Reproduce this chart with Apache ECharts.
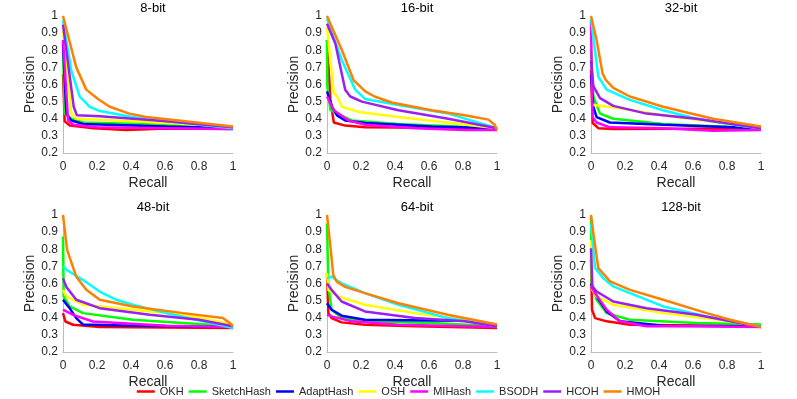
<!DOCTYPE html>
<html>
<head>
    <meta charset="UTF-8">
    <title>Precision-Recall curves</title>
    <script src="https://cdn.jsdelivr.net/npm/echarts@6/dist/echarts.min.js"></script>
</head>
<body style="margin: 0;overflow: hidden;background: #fff;">
<div id="chart" style="width: 797px;height: 399px;"></div>
<script type="text/javascript">
    var methods = ['OKH', 'SketchHash', 'AdaptHash', 'OSH', 'MIHash', 'BSODH', 'HCOH', 'HMOH'];
    var colors = ['#ff0000', '#00ff00', '#0000ff', '#ffff00', '#ff00ff', '#00ffff', '#9b1ff2', '#ff8000'];
    var panelTitles = ['8-bit', '16-bit', '32-bit', '48-bit', '64-bit', '128-bit'];
    var xTicks = [0, 0.2, 0.4, 0.6, 0.8, 1];
    var yTicks = [0.2, 0.3, 0.4, 0.5, 0.6, 0.7, 0.8, 0.9, 1];

    // each panel: one [recall, precision] curve per method, same order as methods
    var curves8 = [
        [[0, 0.66], [0.01, 0.385], [0.04, 0.36], [0.18, 0.345], [0.37, 0.335], [0.61, 0.343], [1, 0.34]],
        [[0, 0.8], [0.01, 0.43], [0.049, 0.4], [0.118, 0.378], [0.61, 0.365], [1, 0.35]],
        [[0, 0.84], [0.02, 0.43], [0.049, 0.39], [0.118, 0.37], [0.61, 0.355], [1, 0.345]],
        [[0, 0.92], [0.049, 0.43], [0.078, 0.4], [0.41, 0.385], [1, 0.355]],
        [[0, 0.86], [0.03, 0.39], [0.06, 0.365], [0.2, 0.35], [0.61, 0.345], [1, 0.34]],
        [[0, 0.975], [0.049, 0.68], [0.098, 0.53], [0.157, 0.47], [0.216, 0.445], [0.41, 0.41], [0.57, 0.39], [1, 0.345]],
        [[0, 0.95], [0.063, 0.47], [0.082, 0.42], [0.216, 0.415], [0.61, 0.385], [1, 0.35]],
        [[0, 1], [0.078, 0.7], [0.137, 0.57], [0.206, 0.515], [0.275, 0.47], [0.39, 0.43], [0.49, 0.41], [1, 0.355]]
    ];
    var curves16 = [
        [[0, 0.86], [0.02, 0.51], [0.04, 0.378], [0.107, 0.36], [0.225, 0.35], [1, 0.345]],
        [[0, 0.86], [0.002, 0.59], [0.02, 0.45], [0.059, 0.43], [0.146, 0.39], [0.42, 0.37], [1, 0.345]],
        [[0, 0.56], [0.03, 0.47], [0.059, 0.42], [0.107, 0.39], [0.225, 0.375], [0.615, 0.355], [1, 0.345]],
        [[0, 0.935], [0.04, 0.55], [0.059, 0.53], [0.088, 0.47], [0.186, 0.44], [0.42, 0.41], [1, 0.345]],
        [[0, 0.53], [0.04, 0.45], [0.127, 0.39], [0.225, 0.365], [0.52, 0.345], [0.81, 0.335], [1, 0.335]],
        [[0, 0.985], [0.088, 0.74], [0.166, 0.57], [0.225, 0.515], [0.42, 0.48], [0.713, 0.43], [1, 0.345]],
        [[0, 0.955], [0.049, 0.84], [0.107, 0.57], [0.137, 0.53], [0.205, 0.5], [0.42, 0.45], [0.713, 0.4], [1, 0.345]],
        [[0, 1], [0.088, 0.8], [0.156, 0.626], [0.225, 0.56], [0.28, 0.53], [0.38, 0.495], [0.615, 0.45], [0.81, 0.42], [0.95, 0.395], [0.986, 0.365], [1, 0.335]]
    ];
    var curves32 = [
        [[0, 0.685], [0.01, 0.375], [0.043, 0.345], [0.131, 0.34], [1, 0.343]],
        [[0, 0.8], [0.014, 0.53], [0.053, 0.43], [0.131, 0.4], [0.424, 0.37], [1, 0.345]],
        [[0, 0.655], [0.014, 0.47], [0.033, 0.41], [0.111, 0.378], [0.424, 0.365], [1, 0.345]],
        [[0, 0.49], [0.014, 0.48], [0.131, 0.467], [0.424, 0.42], [1, 0.345]],
        [[0, 0.975], [0.008, 0.41], [0.033, 0.378], [0.111, 0.35], [0.424, 0.345], [0.717, 0.33], [1, 0.335]],
        [[0, 0.985], [0.043, 0.645], [0.092, 0.57], [0.228, 0.51], [0.424, 0.45], [0.62, 0.4], [0.91, 0.355], [1, 0.345]],
        [[0, 0.74], [0.014, 0.59], [0.053, 0.52], [0.131, 0.475], [0.326, 0.43], [0.62, 0.4], [1, 0.345]],
        [[0, 1], [0.033, 0.86], [0.068, 0.665], [0.088, 0.625], [0.131, 0.58], [0.228, 0.53], [0.424, 0.47], [0.717, 0.4], [1, 0.355]]
    ];
    var curves48 = [
        [[0, 0.427], [0.014, 0.378], [0.059, 0.359], [0.216, 0.346], [1, 0.34]],
        [[0, 0.874], [0.004, 0.524], [0.039, 0.466], [0.118, 0.427], [0.41, 0.388], [1, 0.35]],
        [[0, 0.505], [0.039, 0.456], [0.078, 0.398], [0.118, 0.36], [0.41, 0.353], [1, 0.346]],
        [[0, 0.563], [0.02, 0.524], [0.118, 0.476], [0.41, 0.447], [0.706, 0.417], [1, 0.36]],
        [[0, 0.447], [0.059, 0.417], [0.176, 0.378], [0.608, 0.353], [1, 0.346]],
        [[0, 0.7], [0.02, 0.68], [0.118, 0.62], [0.216, 0.553], [0.314, 0.505], [0.41, 0.476], [0.608, 0.427], [1, 0.34]],
        [[0, 0.63], [0.02, 0.58], [0.078, 0.505], [0.216, 0.456], [0.51, 0.417], [0.8, 0.388], [1, 0.35]],
        [[0, 1], [0.024, 0.796], [0.078, 0.64], [0.137, 0.563], [0.216, 0.505], [0.41, 0.466], [0.706, 0.427], [0.94, 0.398], [0.98, 0.37], [1, 0.35]]
    ];
    var curves64 = [
        [[0, 0.66], [0.008, 0.427], [0.027, 0.398], [0.086, 0.373], [0.223, 0.359], [0.517, 0.35], [1, 0.34]],
        [[0, 0.95], [0.008, 0.583], [0.027, 0.447], [0.086, 0.398], [0.223, 0.379], [0.614, 0.369], [1, 0.35]],
        [[0, 0.485], [0.027, 0.447], [0.086, 0.412], [0.223, 0.388], [0.614, 0.384], [0.85, 0.383], [1, 0.35]],
        [[0, 0.66], [0.008, 0.563], [0.067, 0.524], [0.223, 0.476], [0.517, 0.427], [1, 0.36]],
        [[0, 0.417], [0.027, 0.408], [0.145, 0.379], [0.42, 0.359], [1, 0.346]],
        [[0, 0.63], [0.027, 0.64], [0.086, 0.6], [0.223, 0.544], [0.42, 0.476], [0.71, 0.398], [1, 0.35]],
        [[0, 0.6], [0.027, 0.563], [0.086, 0.495], [0.223, 0.437], [0.517, 0.398], [0.81, 0.379], [1, 0.35]],
        [[0, 1], [0.018, 0.835], [0.037, 0.65], [0.057, 0.61], [0.106, 0.58], [0.223, 0.544], [0.42, 0.485], [0.71, 0.417], [1, 0.36]]
    ];
    var curves128 = [
        [[0, 0.738], [0.006, 0.447], [0.024, 0.398], [0.092, 0.379], [0.229, 0.359], [1, 0.35]],
        [[0, 0.99], [0.004, 0.6], [0.033, 0.505], [0.092, 0.427], [0.229, 0.388], [0.62, 0.369], [1, 0.36]],
        [[0, 0.6], [0.033, 0.524], [0.092, 0.437], [0.171, 0.379], [0.425, 0.353], [1, 0.35]],
        [[0, 0.854], [0.008, 0.563], [0.033, 0.524], [0.131, 0.476], [0.425, 0.427], [0.818, 0.379], [1, 0.346]],
        [[0, 0.583], [0.024, 0.544], [0.092, 0.447], [0.171, 0.379], [0.327, 0.35], [0.62, 0.35], [1, 0.346]],
        [[0, 0.95], [0.024, 0.69], [0.073, 0.63], [0.131, 0.583], [0.229, 0.544], [0.425, 0.466], [0.68, 0.408], [1, 0.35]],
        [[0, 0.806], [0.008, 0.583], [0.033, 0.553], [0.131, 0.495], [0.327, 0.456], [0.62, 0.417], [1, 0.346]],
        [[0, 1], [0.014, 0.893], [0.043, 0.69], [0.112, 0.612], [0.229, 0.563], [0.425, 0.505], [0.68, 0.427], [0.818, 0.388], [1, 0.346]]
    ];
    var panels = [curves8, curves16, curves32, curves48, curves64, curves128];

    var gridLefts = [63, 327, 591];
    var gridTops = [16, 215];
    var gridW = 170, gridH = 137;
    var textColor = '#262626';
    var fontFamily = 'Liberation Sans, Arial, sans-serif';

    var grids = [], xAxes = [], yAxes = [], titles = [], series = [];
    for (var p = 0; p < panels.length; p++) {
        // note: not "top" -- that name is window.top at global scope
        var gLeft = gridLefts[p % 3];
        var gTop = gridTops[Math.floor(p / 3)];
        grids.push({left: gLeft, top: gTop, width: gridW, height: gridH});
        titles.push({
            text: panelTitles[p],
            left: gLeft + gridW / 2,
            top: gTop - 19,
            textAlign: 'center',
            textStyle: {fontSize: 13, fontWeight: 'normal', color: '#000', fontFamily: fontFamily}
        });
        xAxes.push({
            type: 'value', gridIndex: p, min: xTicks[0], max: xTicks[xTicks.length - 1],
            interval: 0.2,
            name: 'Recall', nameLocation: 'middle', nameGap: 23,
            nameTextStyle: {fontSize: 14, color: textColor, fontFamily: fontFamily},
            axisLine: {lineStyle: {color: '#bdbdbd', width: 1}},
            axisTick: {show: false},
            splitLine: {show: false},
            axisLabel: {fontSize: 12, color: textColor, margin: 8, fontFamily: fontFamily}
        });
        yAxes.push({
            type: 'value', gridIndex: p, min: yTicks[0], max: yTicks[yTicks.length - 1],
            interval: 0.1,
            name: 'Precision', nameLocation: 'middle', nameGap: 22,
            nameTextStyle: {fontSize: 14, color: textColor, fontFamily: fontFamily},
            axisLine: {show: true, lineStyle: {color: '#bdbdbd', width: 1}},
            axisTick: {show: false},
            splitLine: {show: false},
            axisLabel: {fontSize: 12, color: textColor, margin: 5, fontFamily: fontFamily}
        });
        for (var m = 0; m < methods.length; m++) {
            series.push({
                name: methods[m],
                type: 'line',
                xAxisIndex: p,
                yAxisIndex: p,
                data: panels[p][m],
                showSymbol: false,
                symbol: 'none',
                lineStyle: {width: 2.5, color: colors[m]},
                itemStyle: {color: colors[m]},
                animation: false
            });
        }
    }

    var chart = echarts.init(document.getElementById('chart'));
    chart.setOption({
        backgroundColor: '#fff',
        animation: false,
        title: titles,
        legend: {
            data: methods.map(function (n) { return {name: n, icon: 'rect'}; }),
            top: 386,
            left: 'center',
            padding: 0,
            itemWidth: 18,
            itemHeight: 2.5,
            itemGap: 5,
            textStyle: {fontSize: 11, color: textColor, fontFamily: fontFamily}
        },
        grid: grids,
        xAxis: xAxes,
        yAxis: yAxes,
        series: series
    });
</script>
</body>
</html>
